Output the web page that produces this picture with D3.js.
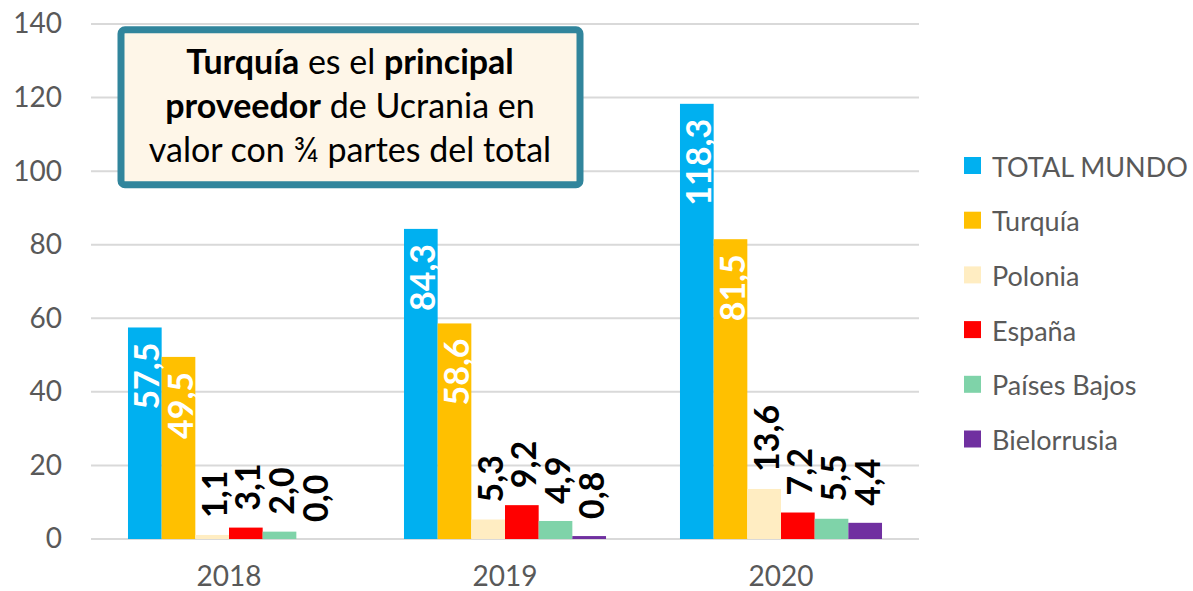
<!DOCTYPE html>
<html><head><meta charset="utf-8">
<script src="https://cdn.jsdelivr.net/npm/d3@7"></script>
<style>
html,body{margin:0;padding:0;background:#fff;}
svg{display:block;font-family:Lato,"Noto Sans",sans-serif;}
</style></head>
<body><svg id="chart" width="1193" height="591"></svg>
<script>
const years = ["2018","2019","2020"];
const seriesNames = ["TOTAL MUNDO","Turquía","Polonia","España","Países Bajos","Bielorrusia"];
const seriesColors = ["#00B0F0","#FFC000","#FFEDC2","#FF0000","#7FD3A9","#7030A0"];
const totalMundo = [57.5, 84.3, 118.3];
const turquia = [49.5, 58.6, 81.5];
const polonia = [1.1, 5.3, 13.6];
const espana = [3.1, 9.2, 7.2];
const paisesBajos = [2.0, 4.9, 5.5];
const bielorrusia = [0.0, 0.8, 4.4];
const yTicks = [0,20,40,60,80,100,120,140];
const insideLabel = [true,true,false,false,false,false];

const seriesValues = [totalMundo, turquia, polonia, espana, paisesBajos, bielorrusia];

(function(){
const svg = d3.select("#chart");
const pLeft = 91, pRight = 919, pTop = 24, pBottom = 539;

const y = d3.scaleLinear().domain([0,140]).range([pBottom, pTop]);
const x0 = d3.scaleBand().domain(years).range([pLeft, pRight]).paddingInner(0.268).paddingOuter(0.134);
const x1 = d3.scaleBand().domain(seriesNames).range([0, x0.bandwidth()]);

svg.append("g").selectAll("line").data(yTicks).join("line")
  .attr("x1", pLeft).attr("x2", pRight)
  .attr("y1", d => y(d)).attr("y2", d => y(d))
  .attr("stroke", "#D9D9D9").attr("stroke-width", 2);

const yAxis = d3.axisLeft(y).tickValues(yTicks).tickSize(0).tickPadding(0).tickFormat(d3.format("d"));
const gy = svg.append("g").attr("transform", `translate(62,0)`).call(yAxis);
gy.select(".domain").remove();
gy.selectAll("text").attr("fill","#595959").style("font-size","28px").style("font-family","Lato");

const xAxis = d3.axisBottom(x0).tickSize(0).tickPadding(0);
const gx = svg.append("g").attr("transform", `translate(0,586)`).call(xAxis);
gx.select(".domain").remove();
gx.selectAll("text").attr("dy", null).attr("y", 0).attr("fill","#595959").style("font-size","28px").style("font-family","Lato");

const groups = svg.append("g").selectAll("g").data(years).join("g")
  .attr("transform", d => `translate(${x0(d)},0)`);

groups.each(function(yr, yi){
  const g = d3.select(this);
  const rows = seriesNames.map((s, si) => ({s, si, v: seriesValues[si][yi]}));
  g.selectAll("rect").data(rows).join("rect")
    .attr("x", d => x1(d.s))
    .attr("width", x1.bandwidth())
    .attr("y", d => y(d.v))
    .attr("height", d => y(0) - y(d.v))
    .attr("fill", d => seriesColors[d.si]);
  g.selectAll("text").data(rows).join("text")
    .attr("transform", d => {
      const cx = x1(d.s) + x1.bandwidth()/2 + 1;
      const ty = insideLabel[d.si] ? y(d.v) + 15 : y(d.v) - 17;
      return `translate(${cx},${ty}) rotate(-90)`;
    })
    .attr("text-anchor", d => insideLabel[d.si] ? "end" : "start")
    .attr("dominant-baseline", "central")
    .attr("fill", d => insideLabel[d.si] ? "#FFFFFF" : "#000000")
    .style("font-weight","bold").style("font-size","34px")
    .text(d => d3.format(".1f")(d.v).replace(".", ","));
});

const legend = svg.append("g").attr("transform","translate(964,166)");
const li = legend.selectAll("g").data(seriesNames).join("g")
  .attr("transform", (d,i) => `translate(0,${i*54.7})`);
li.append("rect").attr("x",0).attr("y",-9).attr("width",17).attr("height",17)
  .attr("fill", (d,i) => seriesColors[i]);
li.append("text").attr("x",28).attr("y",0).attr("dominant-baseline","central")
  .attr("fill","#595959").style("font-size","27px").text(d => d);

const box = svg.append("g");
box.append("rect").attr("x",121).attr("y",29.7).attr("width",459).attr("height",155)
  .attr("rx",4).attr("fill","#FEF6E8").attr("stroke","#31859C").attr("stroke-width",7);
const lines = [
  [["Turquía",true],[" es el ",false],["principal",true]],
  [["proveedor",true],[" de Ucrania en",false]],
  [["valor con ¾ partes del total",false]]
];
lines.forEach((ln, i) => {
  const t = box.append("text").attr("x",350).attr("y",74 + i*44).attr("text-anchor","middle")
    .attr("fill","#000").style("font-size","34px");
  ln.forEach(([s,b]) => t.append("tspan").style("font-weight", b ? "bold" : "normal").text(s));
});
})();
</script></body></html>
